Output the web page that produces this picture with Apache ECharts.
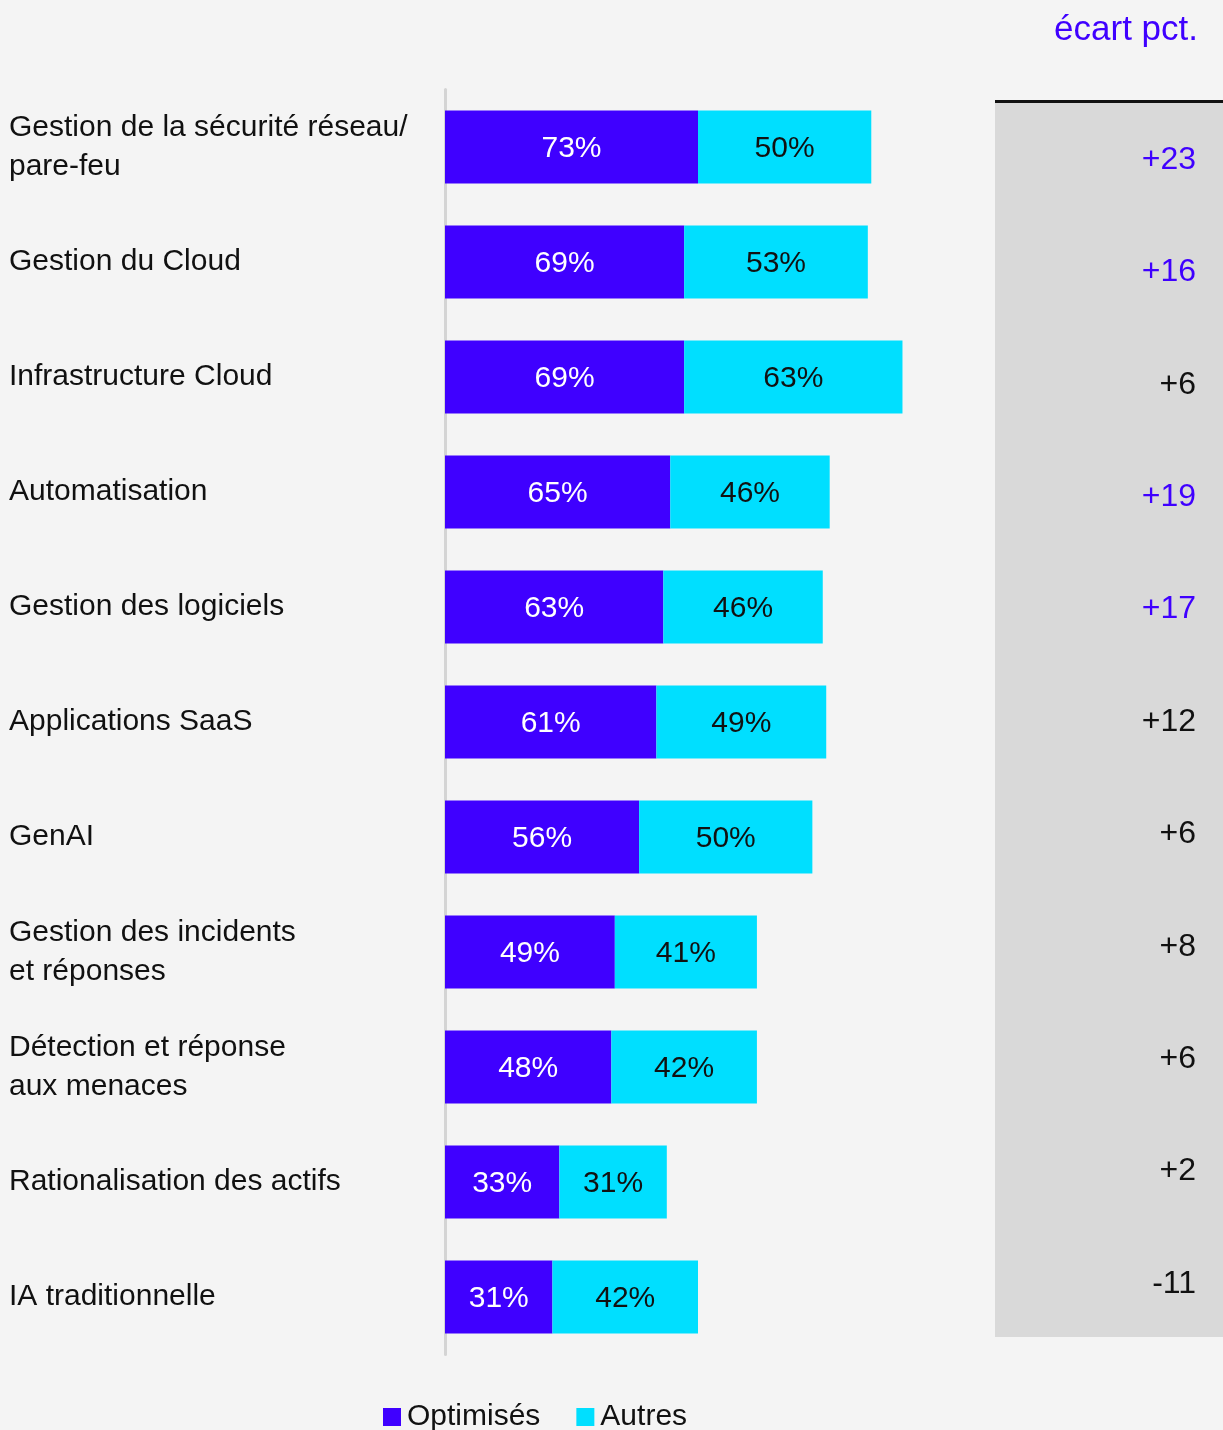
<!DOCTYPE html>
<html>
<head>
<meta charset="utf-8">
<script src="https://cdn.jsdelivr.net/npm/echarts@6/dist/echarts.min.js"></script>
<style>
  html, body { margin: 0; padding: 0; background: #f4f4f4; }
  #main { width: 1223px; height: 1430px; }
</style>
</head>
<body>
<div id="main"></div>
<script>
// données
var categories = [
  'Gestion de la sécurité réseau/\npare-feu',
  'Gestion du Cloud',
  'Infrastructure Cloud',
  'Automatisation',
  'Gestion des logiciels',
  'Applications SaaS',
  'GenAI',
  'Gestion des incidents\net réponses',
  'Détection et réponse\naux menaces',
  'Rationalisation des actifs',
  'IA traditionnelle'
];
var optimises = [73, 69, 69, 65, 63, 61, 56, 49, 48, 33, 31];
var autres = [50, 53, 63, 46, 46, 49, 50, 41, 42, 31, 42];
var ecart = ['+23', '+16', '+6', '+19', '+17', '+12', '+6', '+8', '+6', '+2', '-11'];
var significatif = [true, true, false, true, true, false, false, false, false, false, false];

(function () {
  var violet = '#3f00ff';
  var cyan = '#00dfff';
  var gris = '#d9d9d9';
  var police = '"Liberation Sans", Arial, sans-serif';
  var myChart = echarts.init(document.getElementById('main'));

  // colonne "écart" : une étiquette par catégorie (barres invisibles)
  var panneau = ecart.map(function (v, i) {
    return {
      value: 1,
      label: { color: significatif[i] ? violet : '#111' }
    };
  });

  var option = {
    backgroundColor: '#f4f4f4',
    textStyle: { fontFamily: police },
    title: {
      text: 'écart pct.',
      right: 20,
      top: 8,
      textStyle: { color: violet, fontSize: 35, fontWeight: 'normal', fontFamily: police }
    },
    legend: {
      data: ['Optimisés', 'Autres'],
      left: 378,
      top: 1397,
      icon: 'rect',
      itemWidth: 18,
      itemHeight: 18,
      itemGap: 36,
      textStyle: { fontSize: 30, color: '#111', fontFamily: police, padding: [0, 0, 0, 1] }
    },
    grid: [
      { left: 445, width: 485.2, top: 89.5, bottom: 75.5 },
      { left: 995, right: 0, top: 101, bottom: 93 }
    ],
    xAxis: [
      { gridIndex: 0, type: 'value', min: 0, max: 140, show: false },
      {
        gridIndex: 1, type: 'value', min: 0, max: 1, interval: 1, position: 'top',
        axisLine: { show: true, lineStyle: { color: '#111', width: 3, cap: 'butt' } },
        axisTick: { show: false }, axisLabel: { show: false }, splitLine: { show: false },
        // fond gris du panneau
        splitArea: { show: true, areaStyle: { color: [gris, gris] } }
      }
    ],
    yAxis: [
      {
        gridIndex: 0, type: 'category', data: categories, inverse: true,
        axisLine: { show: true, lineStyle: { color: '#d4d4d4', width: 3 } },
        axisTick: { show: false },
        axisLabel: {
          align: 'left', margin: 436, fontSize: 30, color: '#111',
          lineHeight: 39, fontFamily: police
        }
      },
      { gridIndex: 1, type: 'category', data: categories, inverse: true, show: false }
    ],
    series: [
      {
        name: 'Optimisés', type: 'bar', stack: 'total', barWidth: 73,
        xAxisIndex: 0, yAxisIndex: 0,
        itemStyle: { color: violet },
        label: {
          show: true, position: 'inside', color: '#fff', fontSize: 30,
          fontFamily: police, formatter: '{c}%', offset: [0, 2]
        },
        data: optimises
      },
      {
        name: 'Autres', type: 'bar', stack: 'total', barWidth: 73,
        xAxisIndex: 0, yAxisIndex: 0,
        itemStyle: { color: cyan },
        label: {
          show: true, position: 'inside', color: '#111', fontSize: 30,
          fontFamily: police, formatter: '{c}%', offset: [0, 2]
        },
        data: autres
      },
      {
        name: 'écart', type: 'bar', barWidth: '100%', silent: true,
        xAxisIndex: 1, yAxisIndex: 1,
        itemStyle: { color: 'rgba(0,0,0,0)' },
        label: {
          show: true, position: 'insideRight', offset: [-22, 3],
          fontSize: 32, fontFamily: police,
          formatter: function (p) { return ecart[p.dataIndex]; }
        },
        data: panneau
      }
    ]
  };

  myChart.setOption(option);
  window.addEventListener('resize', function () {
    myChart.resize();
  });
})();
</script>
</body>
</html>
